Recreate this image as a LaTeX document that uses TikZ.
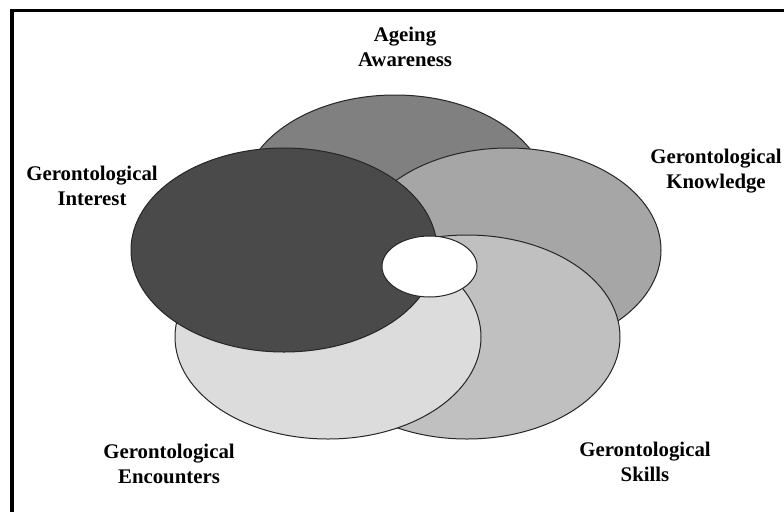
\documentclass[tikz,border=0pt]{standalone}
\usepackage{fontspec}
\setmainfont{Liberation Serif}
\usetikzlibrary{shapes.geometric}
\definecolor{awarecol}{HTML}{808080}
\definecolor{knowcol}{HTML}{A6A6A6}
\definecolor{skillcol}{HTML}{C0C0C0}
\definecolor{meetcol}{HTML}{DCDCDC}
\definecolor{interestcol}{HTML}{4A4A4A}
\begin{document}
\begin{tikzpicture}[x=1pt,y=-1pt,
        petal/.style={ellipse,draw=black!85,line width=1pt,inner sep=0pt,
            minimum width=306pt,minimum height=204pt},
        lbl/.style={align=center,font=\bfseries\fontsize{20.8}{25}\selectfont}]
        \useasboundingbox (0,0) rectangle (784,512);
        % frame (only top and left edges show)
        \draw[line width=3.5pt] (12,512) -- (12,10.5) -- (784,10.5);
        % the five circles
        \node[petal,fill=awarecol] (aware) at (395,197) {};
        \node[petal,fill=knowcol] (know) at (508,250) {};
        \node[petal,fill=skillcol] (skill) at (467,337) {};
        \node[petal,fill=meetcol] (meet) at (328,337) {};
        \node[petal,fill=interestcol] (interest) at (284,250) {};
        \node[ellipse,draw=black!85,line width=1pt,fill=white,inner sep=0pt,
            minimum width=95pt,minimum height=61pt] (core) at (429.5,266.5) {};
        % labels
        \node[lbl] (awareL) at (405,47) {Ageing\\Awareness};
        \node[lbl] (knowL) at (716,171) {Gerontological\\Knowledge};
        \node[lbl] (interestL) at (92,186) {Gerontological\\Interest};
        \node[lbl] (meetL) at (169,464) {Gerontological\\Encounters};
        \node[lbl] (skillL) at (645,462) {Gerontological\\Skills};
    \end{tikzpicture}
\end{document}
